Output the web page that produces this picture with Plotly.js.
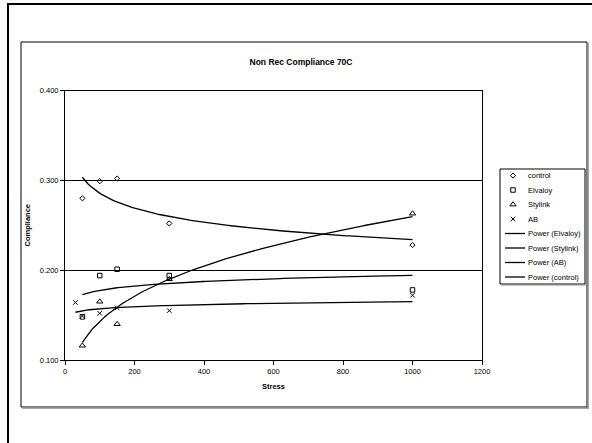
<!DOCTYPE html>
<html>
<head>
<meta charset="utf-8">
<script src="https://cdn.plot.ly/plotly-3.0.1.min.js"></script>
<style>html,body{margin:0;padding:0;background:#fff;}#chart{width:592px;height:443px;}</style>
</head>
<body>
<div id="chart"></div>
<script>
// ---- data ----
const stressMain = [50, 100, 150, 300, 1000];
const stressAB = [30, 50, 100, 150, 300, 1000];
const control = [0.280, 0.299, 0.302, 0.252, 0.228];
const elvaloy = [0.148, 0.194, 0.201, 0.194, 0.178];
const stylink = [0.116, 0.165, 0.140, 0.190, 0.263];
const ab = [0.164, 0.149, 0.152, 0.158, 0.155, 0.172];
const seriesNames = ["control", "Elvaloy", "Stylink", "AB"];
const trendNames = ["Power (Elvaloy)", "Power (Stylink)", "Power (AB)", "Power (control)"];
const chartTitle = "Non Rec Compliance 70C";
const xTitle = "Stress";
const yTitle = "Compliance";

const W = 592, H = 443;
const px = x => x / W;
const py = y => 1 - y / H;
const FONT = "Liberation Sans, Arial, sans-serif";

// power trendline fit y = a*x^b (least squares in log space, as Excel does)
function powerFit(xs, ys) {
  const lx = xs.map(Math.log), ly = ys.map(Math.log);
  const n = xs.length;
  const mx = lx.reduce((s, v) => s + v, 0) / n;
  const my = ly.reduce((s, v) => s + v, 0) / n;
  let sxy = 0, sxx = 0;
  for (let i = 0; i < n; i++) { sxy += (lx[i] - mx) * (ly[i] - my); sxx += (lx[i] - mx) ** 2; }
  const b = sxy / sxx, a = Math.exp(my - b * mx);
  const xmin = Math.min(...xs), xmax = Math.max(...xs);
  const cx = [], cy = [];
  const steps = 120;
  for (let i = 0; i <= steps; i++) {
    const x = xmin + (xmax - xmin) * i / steps;
    cx.push(x); cy.push(a * Math.pow(x, b));
  }
  return {x: cx, y: cy};
}

const mk = (sym, size) => ({symbol: sym, size: size, color: "#000", line: {color: "#000", width: 1}});
const markerDefs = [mk("diamond-open", 4), mk("square-open", 4.5), mk("triangle-up-open", 5.5), mk("x-thin-open", 4.5)];

const traces = [];
const pts = [[stressMain, control], [stressMain, elvaloy], [stressMain, stylink], [stressAB, ab]];
pts.forEach((p, i) => {
  traces.push({x: p[0], y: p[1], type: "scatter", mode: "markers", name: seriesNames[i],
    marker: markerDefs[i], showlegend: false, cliponaxis: false});
});
const fits = [[stressMain, elvaloy], [stressMain, stylink], [stressAB, ab], [stressMain, control]];
fits.forEach((p, i) => {
  const f = powerFit(p[0], p[1]);
  traces.push({x: f.x, y: f.y, type: "scatter", mode: "lines", name: trendNames[i],
    line: {color: "#000", width: 1.3}, showlegend: false, hoverinfo: "skip"});
});

// ---- hand-drawn legend (pixel coordinates on a hidden overlay axis) ----
const legL = 500, legR = 585, legT = 169, legB = 284;
const rowY = [175.5, 190, 204.5, 219, 233.5, 248, 262.5, 277];
const legendLabels = seriesNames.concat(trendNames);
seriesNames.forEach((n, i) => {
  traces.push({x: [513], y: [rowY[i]], xaxis: "x2", yaxis: "y2", type: "scatter", mode: "markers",
    marker: markerDefs[i], showlegend: false, hoverinfo: "skip", cliponaxis: false});
});

const shapes = [
  {type: "rect", xref: "paper", yref: "paper", x0: px(8), x1: px(640), y0: py(4), y1: py(480), line: {color: "#000", width: 2}},
  {type: "rect", xref: "paper", yref: "paper", x0: px(21), x1: px(587), y0: py(42), y1: py(407), line: {color: "#000", width: 1}},
  {type: "line", xref: "paper", yref: "paper", x0: px(588), x1: px(588), y0: py(43), y1: py(408.5), line: {color: "#8a8a8a", width: 1.5}},
  {type: "line", xref: "paper", yref: "paper", x0: px(22), x1: px(588.5), y0: py(408), y1: py(408), line: {color: "#8a8a8a", width: 1.5}},
  {type: "rect", xref: "paper", yref: "paper", x0: px(legL), x1: px(legR), y0: py(legT), y1: py(legB), line: {color: "#000", width: 1}},
  {type: "line", xref: "paper", yref: "paper", x0: px(legL + 1), x1: px(legR + 1), y0: py(legB + 1), y1: py(legB + 1), line: {color: "#8a8a8a", width: 1}}
];
for (let i = 4; i < 8; i++) {
  shapes.push({type: "line", xref: "paper", yref: "paper", x0: px(505), x1: px(525), y0: py(rowY[i]), y1: py(rowY[i]), line: {color: "#000", width: 1.3}});
}
const annotations = legendLabels.map((t, i) => ({
  text: t, xref: "paper", yref: "paper", x: px(526), y: py(rowY[i]), xanchor: "left", yanchor: "middle",
  showarrow: false, font: {family: FONT, size: 7.5, color: "#000"}
}));

const layout = {
  width: W, height: H,
  margin: {l: 0, r: 0, t: 0, b: 0},
  paper_bgcolor: "#fff", plot_bgcolor: "rgba(0,0,0,0)",
  showlegend: false,
  title: {text: chartTitle, x: px(301), xanchor: "center", y: py(62), yanchor: "middle",
    font: {family: FONT, size: 8.5, color: "#000", weight: "bold"}},
  xaxis: {domain: [px(65), px(482)], range: [0, 1200], dtick: 200, tick0: 0,
    showline: true, linecolor: "#000", linewidth: 1, mirror: true, showgrid: false, zeroline: false,
    ticks: "outside", ticklen: 4, tickcolor: "#000", tickfont: {family: FONT, size: 7.5, color: "#000"},
    title: {text: xTitle, standoff: 8, font: {family: FONT, size: 7.5, color: "#000", weight: "bold"}}},
  yaxis: {domain: [py(360), py(90.5)], range: [0.1, 0.4], dtick: 0.1, tick0: 0.1, tickformat: ".3f",
    showline: true, linecolor: "#000", linewidth: 1, mirror: true, showgrid: true, gridcolor: "#000", gridwidth: 1, zeroline: false,
    ticks: "outside", ticklen: 4, tickcolor: "#000", tickfont: {family: FONT, size: 7.5, color: "#000"},
    title: {text: yTitle, standoff: 8, font: {family: FONT, size: 7.5, color: "#000", weight: "bold"}}},
  xaxis2: {domain: [px(legL), px(legR)], range: [legL, legR], anchor: "y2", visible: false, fixedrange: true},
  yaxis2: {domain: [py(legB), py(legT)], range: [legB, legT], anchor: "x2", visible: false, fixedrange: true},
  shapes: shapes,
  annotations: annotations
};

Plotly.newPlot("chart", traces, layout, {displayModeBar: false, staticPlot: true});
</script>
</body>
</html>
